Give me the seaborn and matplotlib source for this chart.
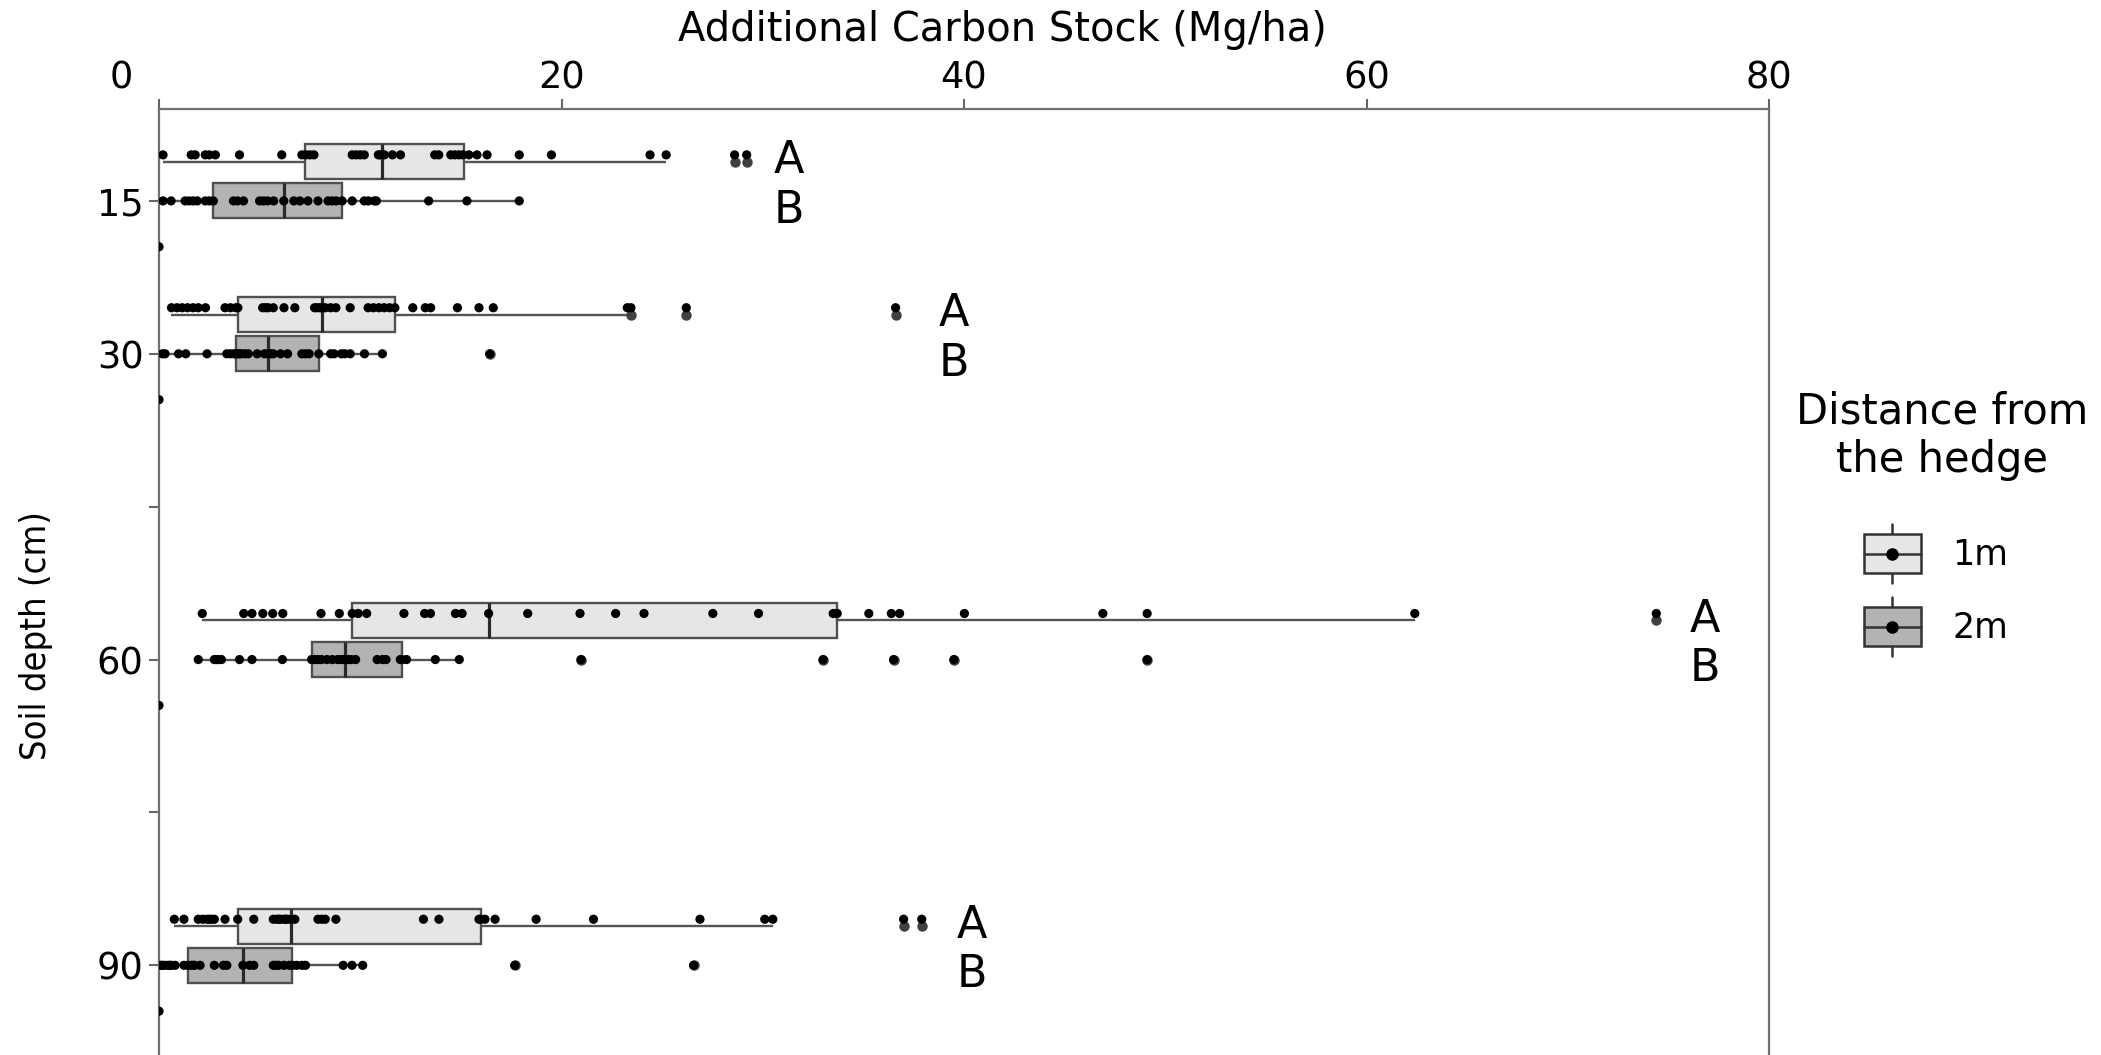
import matplotlib
matplotlib.use("Agg")
import matplotlib.pyplot as plt
import matplotlib.transforms as mtransforms
from matplotlib.patches import Patch, Rectangle
from matplotlib.lines import Line2D
from matplotlib.legend_handler import HandlerBase
import seaborn as sns
import pandas as pd

# Soil depth groups (cm) and hedge distances
depths = [15, 30, 60, 90]
distances = ['1m', '2m']

# Additional carbon stock (Mg/ha), one list per depth and distance
stock_1m_15 = [0.2, 1.6, 1.8, 2.3, 2.5, 2.8, 4.0, 6.1, 7.1, 7.3, 7.5, 7.7, 9.6, 9.8, 10.0, 10.2,
               10.9, 11.0, 11.2, 11.6, 12.0, 13.7, 13.9, 14.5, 14.7, 14.9, 15.1, 15.4, 15.8, 16.3,
               17.9, 19.5, 24.4, 25.2, 28.6, 29.2]
stock_2m_15 = [0.2, 0.6, 1.3, 1.5, 1.7, 1.9, 2.3, 2.5, 2.7, 3.7, 3.9, 4.2, 5.0, 5.2, 5.4, 5.7,
               6.2, 6.7, 7.0, 7.4, 7.9, 8.4, 8.6, 8.8, 9.1, 9.6, 10.2, 10.4, 10.7, 10.8, 13.4,
               15.3, 17.9]
stock_1m_30 = [0.62, 0.89, 1.15, 1.42, 1.69, 1.95, 2.31, 3.28, 3.55, 3.82, 3.92, 5.15, 5.3, 5.42,
               5.68, 6.21, 6.75, 7.73, 7.85, 7.99, 8.08, 8.26, 8.53, 8.79, 9.5, 10.39, 10.66,
               10.93, 11.19, 11.46, 11.72, 12.61, 13.23, 13.5, 14.83, 15.9, 16.61, 23.27, 23.45,
               26.2, 36.6]
stock_2m_30 = [0.17, 0.3, 0.97, 1.33, 2.39, 3.37, 3.55, 3.73, 3.82, 3.91, 4.0, 4.08, 4.26, 4.44,
               4.88, 5.24, 5.4, 5.55, 5.68, 6.04, 6.39, 7.1, 7.28, 7.46, 7.94, 8.53, 8.7, 9.06,
               9.23, 9.5, 10.21, 11.1, 16.43]
stock_1m_60 = [2.15, 4.21, 4.62, 5.16, 5.65, 6.15, 8.05, 8.96, 9.6, 9.9, 10.32, 12.17, 13.2, 13.49,
               14.73, 15.06, 16.38, 18.32, 20.92, 22.69, 24.1, 27.52, 29.79, 33.5, 33.7, 35.27,
               36.39, 36.8, 40.02, 46.9, 49.1, 62.4, 74.4]
stock_2m_60 = [1.95, 2.75, 2.85, 2.93, 3.1, 4.0, 4.62, 6.13, 7.58, 7.73, 7.9, 8.08, 8.35, 8.61,
               8.88, 9.06, 9.23, 9.41, 9.55, 9.77, 10.84, 11.1, 11.28, 11.99, 12.08, 12.3, 13.73,
               14.92, 20.97, 33.0, 36.5, 39.5, 49.1]
stock_1m_90 = [0.76, 1.24, 1.95, 2.18, 2.39, 2.5, 2.61, 2.75, 3.28, 3.91, 4.71, 5.68, 5.86, 5.95,
               6.04, 6.21, 6.3, 6.39, 6.57, 6.75, 7.9, 8.08, 8.26, 8.79, 13.14, 13.91, 15.9, 16.0,
               16.2, 16.7, 18.74, 21.59, 26.88, 30.1, 30.5, 37.0, 37.9]
stock_2m_90 = [0.09, 0.15, 0.26, 0.44, 0.53, 0.62, 0.8, 1.24, 1.44, 1.6, 1.7, 1.77, 2.04, 2.75,
               3.2, 3.37, 4.17, 4.5, 4.71, 5.68, 5.8, 5.95, 6.21, 6.48, 6.62, 6.84, 7.1, 7.28,
               9.15, 9.59, 10.12, 17.68, 26.56]

stock_1m = [stock_1m_15, stock_1m_30, stock_1m_60, stock_1m_90]
stock_2m = [stock_2m_15, stock_2m_30, stock_2m_60, stock_2m_90]

# stray zero values drawn just below each group
edge_stock = [0, 0, 0, 0]

# significance letters and where they sit on the x axis
letters_1m = ['A', 'A', 'A', 'A']
letters_2m = ['B', 'B', 'B', 'B']
letter_x = [31.3, 39.5, 76.8, 40.4]

# styling
box_colors = {'1m': '#E6E6E6', '2m': '#B3B3B3'}
box_shift = {'1m': -3.85, '2m': 0.0}
dot_shift = {'1m': -0.67, '2m': 0.0}

rows = []
for d, g1, g2 in zip(depths, stock_1m, stock_2m):
    for v in g1:
        rows.append((d, '1m', v))
    for v in g2:
        rows.append((d, '2m', v))
df = pd.DataFrame(rows, columns=['depth', 'distance', 'stock'])
df['pos'] = df['depth'] + df['distance'].map(box_shift)
df['dot_y'] = df['pos'] + df['distance'].map(dot_shift)

sns.set_style('white')
plt.rcParams['font.family'] = ['DejaVu Sans']
plt.rcParams['text.color'] = 'black'
plt.rcParams['axes.labelcolor'] = 'black'

fig = plt.figure(figsize=(21.01, 10.55), dpi=100)
ax = fig.add_axes([159 / 2101, 0, 1610 / 2101, 945.8 / 1055])

sns.boxplot(data=df, x='stock', y='pos', hue='distance', hue_order=distances,
            palette=box_colors, orient='h', native_scale=True, dodge=False,
            width=0.894, saturation=1, linecolor='#505050', linewidth=1.7, whis=1.5,
            flierprops=dict(marker='o', markerfacecolor='#404040', markeredgecolor='#404040',
                            markersize=6.5),
            medianprops=dict(color='#2a2a2a', linewidth=2.3),
            whiskerprops=dict(color='#555555', linewidth=1.7),
            capprops=dict(linewidth=0),
            legend=False, ax=ax)

sns.scatterplot(data=df, x='stock', y='dot_y', color='black', s=44, edgecolor='none',
                legend=False, ax=ax, zorder=4)
sns.scatterplot(x=edge_stock, y=[d + 4.5 for d in depths], color='black', s=44,
                edgecolor='none', legend=False, ax=ax, zorder=4)

for d, x, a, b in zip(depths, letter_x, letters_1m, letters_2m):
    ax.text(x, d - 3.95, a, fontsize=32, ha='center', va='center', color='black')
    ax.text(x, d + 0.92, b, fontsize=32, ha='center', va='center', color='black')

ax.set_xlim(0, 80)
ax.set_ylim(98.8, 6.0)
ax.set_xticks([0, 20, 40, 60, 80])
ax.set_yticks([15, 30, 60, 90])
ax.set_yticks([45, 75], minor=True)
ax.xaxis.tick_top()
ax.xaxis.set_label_position('top')
ax.tick_params(axis='x', which='both', top=True, labeltop=True, bottom=False,
               labelbottom=False, direction='out', length=7, width=1.5,
               color='#666666', labelcolor='black', labelsize=26.5, pad=2)
ax.tick_params(axis='y', which='both', left=True, direction='out', length=7, width=1.5,
               color='#666666', labelcolor='black', labelsize=26.5, pad=4)

for side in ['top', 'left', 'right']:
    ax.spines[side].set_color('#707070')
    ax.spines[side].set_linewidth(1.6)
ax.spines['bottom'].set_visible(False)

# the "0" label sits left of the axis in the original
offset = mtransforms.ScaledTranslation(-0.38, 0, fig.dpi_scale_trans)
labs = ax.get_xticklabels()
labs[0].set_transform(labs[0].get_transform() + offset)

ax.set_xlabel('Additional Carbon Stock (Mg/ha)', fontsize=28.8)
ax.xaxis.set_label_coords(0.524, 1.084)
ax.xaxis.label.set_va('center')
ax.set_ylabel('Soil depth (cm)', fontsize=26, fontstretch='condensed')
ax.yaxis.set_label_coords(-0.0764, 0.444)
ax.yaxis.label.set_va('center')


class BoxHandler(HandlerBase):
    def create_artists(self, legend, orig_handle, xdescent, ydescent, width, height,
                       fontsize, trans):
        x0, y0 = -xdescent, -ydescent
        cx, cy = x0 + width / 2, y0 + height / 2
        ext = height * 0.26
        whisker = Line2D([cx, cx], [y0 - ext, y0 + height + ext], color='#333333', lw=1.8,
                         transform=trans)
        box = Rectangle((x0, y0), width, height, facecolor=orig_handle.get_facecolor(),
                        edgecolor='#333333', lw=1.8, transform=trans)
        median = Line2D([x0, x0 + width], [cy, cy], color='#333333', lw=1.8, transform=trans)
        dot = Line2D([cx], [cy], marker='o', markersize=8, color='black', transform=trans)
        return [whisker, box, median, dot]


# legend title drawn on its own so the entries can sit a bit lower
fig.text(1942 / 2101, 1 - 390 / 1055, 'Distance from\nthe hedge', fontsize=30,
         ha='center', va='top', multialignment='center', color='black')

handles = [Patch(facecolor=box_colors[k]) for k in distances]
leg = fig.legend(handles, distances, handler_map={Patch: BoxHandler()},
                 loc='upper center', bbox_to_anchor=(1936 / 2101, 1 - 503 / 1055),
                 frameon=False, fontsize=25, handlelength=1.64, handleheight=1.35,
                 labelspacing=0.98, handletextpad=0.9)

fig.savefig('out.png', dpi=100)
